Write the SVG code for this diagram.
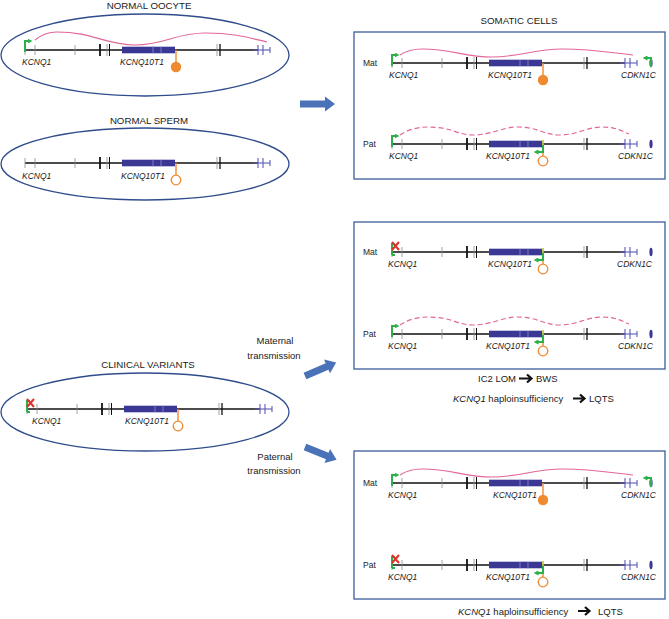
<svg xmlns="http://www.w3.org/2000/svg" xmlns:xlink="http://www.w3.org/1999/xlink" width="669" height="619" viewBox="0 0 669 619">
<style>
text{font-family:"Liberation Sans",Arial,sans-serif;fill:#1a1a1a}
.t{font-size:9.7px}
.g{font-size:8.5px;font-style:italic}
.s{font-size:8.5px}
.r{font-size:9.5px}
.ell{fill:#fff;stroke:#2f4d8c;stroke-width:1.3}
.box{fill:#fff;stroke:#3d5c9c;stroke-width:1.3}
.ln{stroke:#111;stroke-width:1.3}
.tg{stroke:#8a8a8a;stroke-width:0.8}
.tb{stroke:#111;stroke-width:1.8}
.bl{stroke:#5a5ab8;stroke-width:1.1}
.wave{fill:none;stroke:#e2669a;stroke-width:1.2}
.dash{fill:none;stroke:#e2669a;stroke-width:1.2;stroke-dasharray:5 3}
.gr{fill:none;stroke:#2bb04a;stroke-width:2}
.or{stroke:#ef8a30;stroke-width:1.4;fill:none}
.x{stroke:#e0302a;stroke-width:2;fill:none}
.bigarrow{fill:#4a72b8}
.ra{fill:none;stroke:#111;stroke-width:2.2}
</style>
<defs>
<marker id="ah" viewBox="0 0 6 6" refX="3" refY="3" markerWidth="5" markerHeight="5" orient="auto" markerUnits="userSpaceOnUse"><path d="M0,0 L6,3 L0,6 z" fill="#2bb04a"/></marker>
<g id="gene">
<line class="ln" x1="0" y1="0" x2="233" y2="0"/>
<line class="tg" x1="0" y1="-5" x2="0" y2="5"/>
<line class="tg" x1="10" y1="-5" x2="10" y2="5"/>
<line class="tg" x1="50" y1="-5" x2="50" y2="5"/>
<line class="tb" x1="75" y1="-6" x2="75" y2="6"/>
<line class="tg" x1="82" y1="-6" x2="82" y2="6"/>
<line class="tb" x1="84.5" y1="-6" x2="84.5" y2="6" style="stroke-width:1"/>
<rect x="97" y="-3.3" width="53" height="6.6" fill="#3b3795"/>
<line x1="128" y1="-3.3" x2="128" y2="3.3" stroke="#8c8ac8" stroke-width="0.8"/>
<line x1="136" y1="-3.3" x2="136" y2="3.3" stroke="#8c8ac8" stroke-width="0.8"/>
<line class="tg" x1="192" y1="-6" x2="192" y2="6"/>
<line class="tb" x1="195" y1="-6" x2="195" y2="6" style="stroke-width:1.3"/>
<line class="bl" x1="228" y1="0" x2="245" y2="0"/>
<line class="bl" x1="233" y1="-5" x2="233" y2="5"/>
<line class="bl" x1="238" y1="-5" x2="238" y2="5"/>
<line class="bl" x1="245" y1="-3" x2="245" y2="3"/>
</g>
<g id="lolF"><line class="or" x1="151" y1="0" x2="151" y2="12"/><circle cx="151" cy="17" r="5.2" fill="#ef8a30"/></g>
<g id="lolH"><line class="or" x1="151" y1="0" x2="151" y2="12"/><circle cx="151" cy="17" r="4.8" fill="#fff" stroke="#ef8a30" stroke-width="1.3"/></g>
<g id="lolHA"><line class="or" x1="151" y1="0" x2="151" y2="12"/><circle cx="151" cy="17" r="4.8" fill="#fff" stroke="#ef8a30" stroke-width="1.3"/><line x1="151" y1="-4" x2="151" y2="4" stroke="#b7c934" stroke-width="1.6"/><path class="gr" d="M151,1 V8 H144" stroke-width="1.8" marker-end="url(#ah)"/></g>
<path id="prom" class="gr" d="M0,3 V-8 H5" marker-end="url(#ah)"/>
<g id="promX"><path class="gr" d="M0,3 V-8 H3 M0,3 H3"/><path class="x" d="M0,-10 L7,-2 M7,-10 L0,-2"/></g>
<g id="cdkn"><ellipse cx="259" cy="0" rx="1.6" ry="4.2" fill="#3b3795"/></g>
<path id="cdknA" class="gr" d="M259,4 V-5 H253" marker-end="url(#ah)"/>
<path id="waveBox" class="wave" d="M8,-8 C14,-12 22,-14 30,-14 C60,-14 72,-6 100,-6 C128,-6 142,-14 170,-14 C200,-14 222,-10 241,-8"/>
<path id="dashBox" class="dash" d="M8,-9 C15,-14 25,-17 36,-17 C60,-17 65,-9 81,-9 C100,-9 110,-17 126,-17 C145,-17 152,-9 168,-9 C185,-9 195,-17 210,-17 C225,-17 232,-12 237,-10"/>
</defs>

<g id="oocyte">
<text class="t" x="149" y="9" text-anchor="middle">NORMAL OOCYTE</text>
<ellipse class="ell" cx="145" cy="55" rx="144" ry="41"/>
<g transform="translate(25,50)">
<use xlink:href="#gene"/>
<path class="wave" d="M10,-10 C16,-15 24,-18 32,-18 C68,-18 80,-5 110,-5 C140,-5 150,-17 180,-17 C210,-17 225,-12 242,-8"/>
<path class="gr" d="M0,2 V-9 H5" marker-end="url(#ah)"/>
<use xlink:href="#lolF"/>
</g>
<text class="g" x="22" y="65">KCNQ1</text>
<text class="g" x="120" y="65">KCNQ10T1</text>
</g>

<g id="sperm">
<text class="t" x="149" y="124" text-anchor="middle">NORMAL SPERM</text>
<ellipse class="ell" cx="145" cy="164" rx="144" ry="36"/>
<g transform="translate(25,163)">
<use xlink:href="#gene"/>
<use xlink:href="#lolH"/>
</g>
<text class="g" x="22" y="179">KCNQ1</text>
<text class="g" x="121" y="179">KCNQ10T1</text>
</g>

<g id="clinical">
<text class="t" x="148" y="368" text-anchor="middle">CLINICAL VARIANTS</text>
<ellipse class="ell" cx="145" cy="412" rx="144" ry="39"/>
<g transform="translate(27,409)">
<use xlink:href="#gene"/>
<use xlink:href="#promX"/>
<use xlink:href="#lolH"/>
</g>
<text class="g" x="32" y="424">KCNQ1</text>
<text class="g" x="125" y="424">KCNQ10T1</text>
</g>

<g id="somatic">
<text class="t" x="519" y="24" text-anchor="middle">SOMATIC CELLS</text>
<rect class="box" x="354" y="32" width="311" height="147"/>
<text class="s" x="363" y="66">Mat</text>
<g transform="translate(392,63)">
<use xlink:href="#gene"/>
<use xlink:href="#waveBox"/>
<use xlink:href="#prom"/>
<use xlink:href="#lolF"/>
<use xlink:href="#cdkn"/>
<use xlink:href="#cdknA"/>
</g>
<text class="g" x="389" y="78">KCNQ1</text>
<text class="g" x="488" y="78">KCNQ10T1</text>
<text class="g" x="656" y="78" text-anchor="end">CDKN1C</text>
<text class="s" x="363" y="147">Pat</text>
<g transform="translate(392,144)">
<use xlink:href="#gene"/>
<use xlink:href="#dashBox"/>
<use xlink:href="#prom"/>
<use xlink:href="#lolHA"/>
<use xlink:href="#cdkn"/>
</g>
<text class="g" x="389" y="159">KCNQ1</text>
<text class="g" x="486" y="159">KCNQ10T1</text>
<text class="g" x="653" y="159" text-anchor="end">CDKN1C</text>
</g>

<g id="maternal-result">
<rect class="box" x="354" y="222" width="311" height="147"/>
<text class="s" x="363" y="255">Mat</text>
<g transform="translate(392,252)">
<use xlink:href="#gene"/>
<use xlink:href="#promX"/>
<use xlink:href="#lolHA"/>
<use xlink:href="#cdkn"/>
</g>
<text class="g" x="388" y="267">KCNQ1</text>
<text class="g" x="488" y="267">KCNQ10T1</text>
<text class="g" x="652" y="267" text-anchor="end">CDKN1C</text>
<text class="s" x="363" y="337">Pat</text>
<g transform="translate(392,334)">
<use xlink:href="#gene"/>
<use xlink:href="#dashBox"/>
<use xlink:href="#prom"/>
<use xlink:href="#lolHA"/>
<use xlink:href="#cdkn"/>
</g>
<text class="g" x="388" y="349">KCNQ1</text>
<text class="g" x="486" y="349">KCNQ10T1</text>
<text class="g" x="653" y="349" text-anchor="end">CDKN1C</text>
<text class="r" x="478" y="382">IC2 LOM</text>
<path class="ra" d="M519,378.5 H531 M527,374.5 L531.5,378.5 L527,382.5"/>
<text class="r" x="536" y="382">BWS</text>
<text class="r" x="453" y="402"><tspan font-style="italic">KCNQ1</tspan> haploinsufficiency</text>
<path class="ra" d="M573,398.5 H584 M580,394.5 L584.5,398.5 L580,402.5"/>
<text class="r" x="589" y="402">LQTS</text>
</g>

<g id="paternal-result">
<rect class="box" x="354" y="451" width="311" height="148"/>
<text class="s" x="363" y="486">Mat</text>
<g transform="translate(392,483)">
<use xlink:href="#gene"/>
<use xlink:href="#waveBox"/>
<use xlink:href="#prom"/>
<use xlink:href="#lolF"/>
<use xlink:href="#cdkn"/>
<use xlink:href="#cdknA"/>
</g>
<text class="g" x="388" y="498">KCNQ1</text>
<text class="g" x="493" y="498">KCNQ10T1</text>
<text class="g" x="656" y="498" text-anchor="end">CDKN1C</text>
<text class="s" x="363" y="568">Pat</text>
<g transform="translate(392,565)">
<use xlink:href="#gene"/>
<use xlink:href="#promX"/>
<use xlink:href="#lolHA"/>
<use xlink:href="#cdkn"/>
</g>
<text class="g" x="388" y="580">KCNQ1</text>
<text class="g" x="486" y="580">KCNQ10T1</text>
<text class="g" x="656" y="580" text-anchor="end">CDKN1C</text>
<text class="r" x="458" y="615"><tspan font-style="italic">KCNQ1</tspan> haploinsufficiency</text>
<path class="ra" d="M578,611 H589 M585,607 L589.5,611 L585,615"/>
<text class="r" x="598" y="615">LQTS</text>
</g>

<g id="connectors">
<polygon class="bigarrow" points="300,100.5 325,100.5 325,96.5 335,104 325,111.5 325,107.5 300,107.5"/>
<polygon class="bigarrow" transform="translate(305,376) rotate(-23.4)" points="0,-3.5 24,-3.5 24,-7.5 34,0 24,7.5 24,3.5 0,3.5"/>
<polygon class="bigarrow" transform="translate(305,447) rotate(21.8)" points="0,-3.5 24,-3.5 24,-7.5 34,0 24,7.5 24,3.5 0,3.5"/>
<text class="r" x="275" y="344" text-anchor="middle">Maternal</text>
<text class="r" x="274" y="359" text-anchor="middle">transmission</text>
<text class="r" x="275" y="460" text-anchor="middle">Paternal</text>
<text class="r" x="274" y="474" text-anchor="middle">transmission</text>
</g>
</svg>
